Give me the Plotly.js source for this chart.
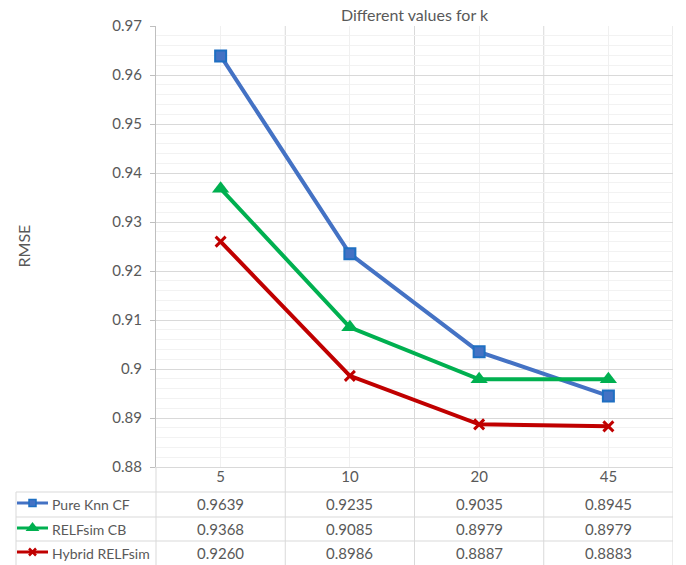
<!DOCTYPE html>
<html>
<head>
<meta charset="utf-8">
<script src="https://cdn.plot.ly/plotly-3.0.1.min.js"></script>
<style>html,body{margin:0;padding:0;background:#fff;}#chart{width:686px;height:565px;}</style>
</head>
<body>
<div id="chart"></div>
<script>
// ---- data ----
const categories = ['5', '10', '20', '45'];
const seriesNames = ['Pure Knn CF', 'RELFsim CB', 'Hybrid RELFsim'];
const pureKnnCF = [0.9639, 0.9235, 0.9035, 0.8945];
const relfsimCB = [0.9368, 0.9085, 0.8979, 0.8979];
const hybridRELFsim = [0.9260, 0.8986, 0.8887, 0.8883];
const chartTitle = 'Different values for k';
const yTitle = 'RMSE';

// ---- geometry (px) ----
const W = 686, H = 565;
const plotL = 156, plotR = 673, plotT = 26, plotB = 467;
const rowLines = [492, 517, 541];
const rowCenters = [504, 529, 553];
const tableLeft = 16;
const px = v => v / W;
const py = v => 1 - v / H;

const FONT = 'Lato, "Open Sans", "Liberation Sans", sans-serif';
const TXT = '#595959';
const GRID = '#d9d9d9';

const seriesValues = [pureKnnCF, relfsimCB, hybridRELFsim];
const styles = [
  {color: '#4472C4', marker: {symbol: 'square', size: 11, color: '#4472C4', line: {color: '#1E6FC2', width: 2}},
   key: {symbol: 'square', size: 7, color: '#4472C4', line: {color: '#1E6FC2', width: 1.5}}},
  {color: '#00B050', marker: {symbol: 'triangle-up', size: 15, color: '#00B050', line: {width: 0}},
   key: {symbol: 'triangle-up', size: 12, color: '#00B050', line: {width: 0}}},
  {color: '#C00000', marker: {symbol: 'x-thin', size: 10, color: '#C00000', line: {color: '#C00000', width: 3}},
   key: {symbol: 'x-thin', size: 7, color: '#C00000', line: {color: '#C00000', width: 2.5}}}
];

const traces = [];
seriesValues.forEach((vals, i) => {
  traces.push({
    type: 'scatter', mode: 'lines+markers', name: seriesNames[i],
    x: categories, y: vals, xaxis: 'x', yaxis: 'y',
    line: {color: styles[i].color, width: 4},
    marker: styles[i].marker, cliponaxis: false, hoverinfo: 'x+y+name'
  });
});
// legend keys inside the data table
seriesNames.forEach((n, i) => {
  traces.push({type: 'scatter', mode: 'lines', x: [17, 48], y: [rowCenters[i] - 1, rowCenters[i] - 1],
    xaxis: 'x2', yaxis: 'y2', line: {color: styles[i].color, width: 3}, hoverinfo: 'skip', showlegend: false});
  traces.push({type: 'scatter', mode: 'markers', x: [32.5], y: [rowCenters[i] - 1],
    xaxis: 'x2', yaxis: 'y2', marker: styles[i].key, hoverinfo: 'skip', showlegend: false, cliponaxis: false});
});

const shapes = [];
const line = (x0, y0, x1, y1, xref, color) => shapes.push({type: 'line', xref: xref || 'paper', yref: 'paper',
  x0: x0, y0: y0, x1: x1, y1: y1, line: {color: color || GRID, width: 1}, layer: 'below'});

// category boundary lines through plot + table
for (let k = 0; k < categories.length; k++) {
  line(k + 0.5, py(plotT), k + 0.5, py(H), 'x');
}
// left boundary in table, left edge of legend column
line(px(plotL), py(plotB), px(plotL), py(H));
line(px(tableLeft), py(rowLines[0]), px(tableLeft), py(H));
// horizontal table lines
rowLines.forEach(r => line(px(tableLeft), py(r), px(plotR), py(r)));

const annotations = [];
// table values (category axis annotations use the category index)
seriesValues.forEach((vals, i) => {
  vals.forEach((v, j) => {
    annotations.push({xref: 'x', yref: 'paper', x: j, y: py(rowCenters[i]),
      text: v.toFixed(4), showarrow: false, xanchor: 'center', yanchor: 'middle',
      font: {family: FONT, size: 15, color: TXT}});
  });
  annotations.push({xref: 'paper', yref: 'paper', x: px(50), y: py(rowCenters[i]),
    text: seriesNames[i], showarrow: false, xanchor: 'left', yanchor: 'middle',
    font: {family: FONT, size: 14, color: TXT}});
});
// y-axis title
annotations.push({xref: 'paper', yref: 'paper', x: px(23), y: py((plotT + plotB) / 2), text: yTitle,
  textangle: -90, showarrow: false, xanchor: 'center', yanchor: 'middle',
  font: {family: FONT, size: 16, color: TXT}});

const layout = {
  width: W, height: H,
  margin: {l: 0, r: 0, t: 0, b: 0, pad: 0},
  paper_bgcolor: '#fff', plot_bgcolor: '#fff',
  showlegend: false,
  font: {family: FONT, size: 14, color: TXT},
  title: {text: chartTitle, x: px((plotL + plotR) / 2), xanchor: 'center', y: py(15), yanchor: 'middle',
    xref: 'paper', yref: 'paper', font: {family: FONT, size: 16, color: TXT}},
  xaxis: {
    type: 'category', categoryorder: 'array', categoryarray: categories,
    domain: [px(plotL), px(plotR)], range: [-0.5, categories.length - 0.5],
    showgrid: true, gridcolor: '#f0f0f0', gridwidth: 1,
    showline: true, linecolor: GRID, linewidth: 1, mirror: false,
    ticks: '', ticklabelstandoff: -4, zeroline: false,
    tickfont: {family: FONT, size: 15, color: TXT}, fixedrange: true
  },
  yaxis: {
    domain: [py(plotB), py(plotT)], range: [0.88, 0.97], autorange: false,
    tick0: 0.88, dtick: 0.01, tickformat: '.2~f',
    showgrid: true, gridcolor: GRID, gridwidth: 1,
    minor: {dtick: 0.002, showgrid: true, gridcolor: '#f2f2f2', gridwidth: 1, ticks: ''},
    showline: true, linecolor: '#bfbfbf', linewidth: 1,
    ticks: 'outside', ticklen: 5, tickcolor: '#bfbfbf', ticklabelstandoff: 5,
    zeroline: false, tickfont: {family: FONT, size: 15, color: TXT}, fixedrange: true
  },
  xaxis2: {domain: [px(tableLeft), px(plotL)], range: [tableLeft, plotL], anchor: 'y2',
    visible: false, fixedrange: true},
  yaxis2: {domain: [0, py(plotB)], range: [H, plotB], autorange: false, anchor: 'x2',
    visible: false, fixedrange: true},
  shapes: shapes,
  annotations: annotations
};

Plotly.newPlot('chart', traces, layout, {displayModeBar: false, staticPlot: true});
</script>
</body>
</html>
